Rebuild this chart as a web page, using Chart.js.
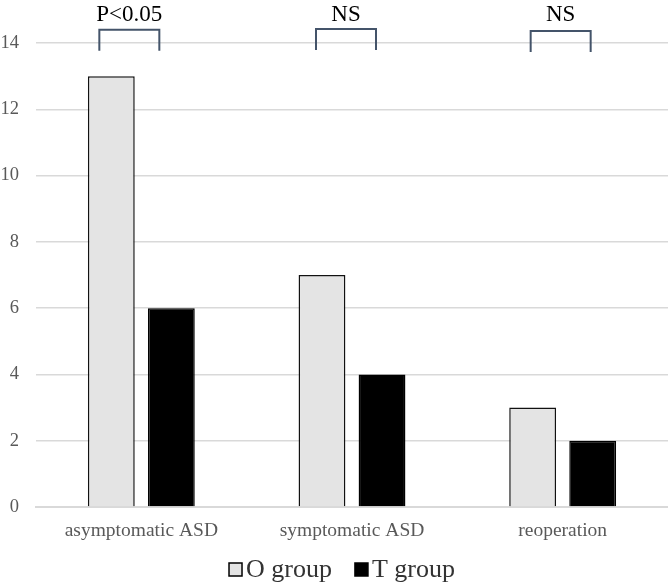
<!DOCTYPE html>
<html>
<head>
<meta charset="utf-8">
<script src="https://cdn.jsdelivr.net/npm/chart.js@4"></script>
<style>
  html, body { margin: 0; padding: 0; background: #fff; }
  #wrap { width: 668px; height: 585px; }
</style>
</head>
<body>
<div id="wrap"><canvas id="chart"></canvas></div>
<script>
const categorias = ["asymptomatic ASD", "symptomatic ASD", "reoperation"];
const grupoO = [13, 7, 3];
const grupoT = [6, 4, 2];
const significancia = ["P<0.05", "NS", "NS"];
const yTicks = [0, 2, 4, 6, 8, 10, 12, 14];

const fuente = "'Liberation Serif', 'Times New Roman', serif";

// brackets con el texto de significancia arriba de cada grupo
const bracketsPlugin = {
  id: "brackets",
  afterDraw(chart) {
    const ctx = chart.ctx;
    const x = chart.scales.x;
    const y = chart.scales.y;
    const desplaz = [-12, -6, -2];
    const topes = [14.4, 14.42, 14.36];
    ctx.save();
    significancia.forEach((txt, i) => {
      const c = x.getPixelForValue(i) + desplaz[i];
      const izq = c - 30, der = c + 30;
      const yTop = y.getPixelForValue(topes[i]);
      const yBot = yTop + 21;
      ctx.strokeStyle = "#44546a";
      ctx.lineWidth = 2;
      ctx.beginPath();
      ctx.moveTo(izq, yBot);
      ctx.lineTo(izq, yTop);
      ctx.lineTo(der, yTop);
      ctx.lineTo(der, yBot);
      ctx.stroke();
      ctx.fillStyle = "#000";
      ctx.font = "23px " + fuente;
      ctx.textAlign = "center";
      ctx.textBaseline = "middle";
      ctx.fillText(txt, c, 15);
    });
    ctx.restore();
  }
};

// leyenda abajo, con el cuadrito pegado al texto
const leyendaPlugin = {
  id: "leyenda",
  afterDraw(chart) {
    const ctx = chart.ctx;
    const sets = chart.data.datasets;
    const lado = 13, sep = 4, entre = 23;
    ctx.save();
    ctx.font = "26px " + fuente;
    const anchos = sets.map(d => lado + sep + ctx.measureText(d.label).width);
    const total = anchos.reduce((a, b) => a + b, 0) + entre * (sets.length - 1);
    let xx = (chart.width - total) / 2 + 8;
    const base = 577;
    sets.forEach((d, i) => {
      ctx.fillStyle = d.backgroundColor;
      ctx.fillRect(xx, base - 14, lado, lado);
      ctx.strokeStyle = "#000";
      ctx.lineWidth = 1.5;
      ctx.strokeRect(xx, base - 14, lado, lado);
      ctx.fillStyle = "#333";
      ctx.textAlign = "left";
      ctx.textBaseline = "alphabetic";
      ctx.fillText(d.label, xx + lado + sep, base);
      xx += anchos[i] + entre;
    });
    ctx.restore();
  }
};

new Chart(document.getElementById("chart"), {
  type: "bar",
  data: {
    labels: categorias,
    datasets: [
      {
        label: "O group",
        data: grupoO,
        backgroundColor: "#e4e4e4",
        borderColor: "#111",
        borderWidth: 1.5,
        categoryPercentage: 0.57,
        barPercentage: 0.78,
      },
      {
        label: "T group",
        data: grupoT,
        backgroundColor: "#000",
        borderColor: "#000",
        borderWidth: 1.5,
        categoryPercentage: 0.57,
        barPercentage: 0.78,
      },
    ],
  },
  options: {
    responsive: true,
    maintainAspectRatio: false,
    animation: false,
    layout: { padding: { top: 43, right: 0, left: 0, bottom: 38 } },
    plugins: {
      tooltip: { enabled: false },
      legend: { display: false },
    },
    scales: {
      x: {
        grid: { display: false },
        border: { color: "#d9d9d9", width: 2 },
        ticks: { font: { family: fuente, size: 19.5 }, color: "#595959", padding: 4 },
        afterFit(scale) { scale.height = 40; },
      },
      y: {
        min: 0,
        max: 14,
        afterBuildTicks(scale) { scale.ticks = yTicks.map(v => ({ value: v })); },
        grid: { color: "#d9d9d9", lineWidth: 1.5, drawTicks: false },
        border: { display: false },
        ticks: { font: { family: fuente, size: 18.5 }, color: "#595959", padding: 17 },
        afterFit(scale) { scale.width = 36; },
      },
    },
  },
  plugins: [bracketsPlugin, leyendaPlugin],
});
</script>
</body>
</html>
